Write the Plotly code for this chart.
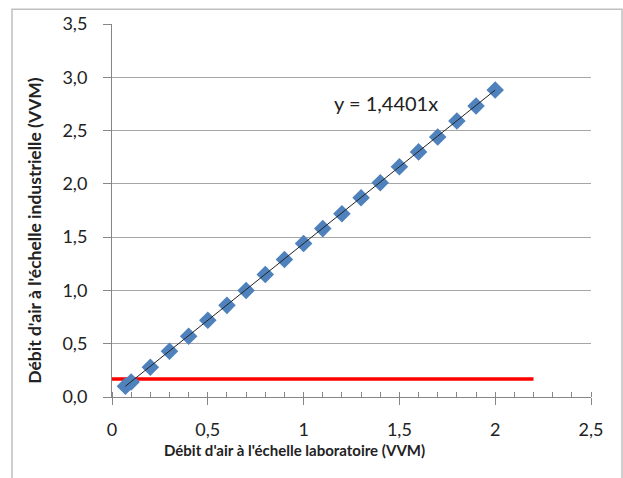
import plotly.graph_objects as go

# Data
lab_vvm = [0.07, 0.1, 0.2, 0.3, 0.4, 0.5, 0.6, 0.7, 0.8, 0.9, 1.0,
           1.1, 1.2, 1.3, 1.4, 1.5, 1.6, 1.7, 1.8, 1.9, 2.0]
ind_vvm = [0.10, 0.14, 0.28, 0.43, 0.57, 0.72, 0.86, 1.00, 1.15, 1.29, 1.44,
           1.58, 1.72, 1.87, 2.01, 2.16, 2.30, 2.44, 2.59, 2.73, 2.88]
trend_x = [0.07, 2.0]
trend_y = [0.1008, 2.8802]
limit_x = [0.0, 2.2]
limit_y = [0.17, 0.17]
equation = "y = 1,4401x"
x_title = "Débit d'air à l'échelle laboratoire (VVM)"
y_title = "Débit d'air à l'échelle industrielle (VVM)"

FONT = "Lato"
W, H = 623, 478
L, R, T, B = 112, 32, 20, 81
pw, ph = W - L - R, H - T - B

fig = go.Figure()
fig.add_trace(go.Scatter(x=limit_x, y=limit_y, mode="lines",
                         line=dict(color="#ff0000", width=3.5), showlegend=False))
fig.add_trace(go.Scatter(x=lab_vvm, y=ind_vvm, mode="markers",
                         marker=dict(symbol="diamond", size=13.5, color="#4f81bd",
                                     line=dict(width=0)), showlegend=False))
fig.add_trace(go.Scatter(x=trend_x, y=trend_y, mode="lines",
                         line=dict(color="#222222", width=1), showlegend=False))

fig.update_xaxes(range=[0, 2.5], tickvals=[0, 0.5, 1, 1.5, 2, 2.5],
                 showgrid=False, zeroline=False, showline=True,
                 linecolor="#868686", linewidth=1,
                 ticks="outside", ticklen=7, tickcolor="#868686",
                 minor=dict(dtick=0.1, ticks="inside", ticklen=5, tickcolor="#868686", showgrid=False),
                 tickfont=dict(family=FONT, size=18, color="#222222"),
                 ticklabelstandoff=9)
fig.update_yaxes(range=[0, 3.5], dtick=0.5, tickformat=".1f",
                 showgrid=True, gridcolor="#a6a6a6", gridwidth=1,
                 zeroline=False, showline=True, linecolor="#868686", linewidth=1,
                 ticks="outside", ticklen=8, tickcolor="#868686",
                 tickfont=dict(family=FONT, size=18, color="#222222"),
                 ticklabelstandoff=12)

fig.add_annotation(x=1.43, y=2.76, xref="x", yref="y", text=equation, showarrow=False,
                   font=dict(family=FONT, size=20, color="#222222"))
fig.add_annotation(x=(294 - L) / pw, y=(H - 462 - B) / ph, xref="paper", yref="paper",
                   text="<b>" + x_title + "</b>", showarrow=False,
                   font=dict(family=FONT, size=15, color="#222222"))
fig.add_annotation(x=(35 - L) / pw, y=(H - 229 - B) / ph, xref="paper", yref="paper",
                   xanchor="center", yanchor="middle",
                   text="<b>" + y_title + "</b>", showarrow=False, textangle=-90,
                   font=dict(family=FONT, size=17.5, color="#222222"))

# chart border
fig.add_shape(type="rect", xref="paper", yref="paper",
              x0=(12 - L) / pw, x1=(622 - L) / pw,
              y0=(H - 500 - B) / ph, y1=(H - 5 - B) / ph,
              line=dict(color="#bfbfbf", width=1.5), layer="below")

fig.update_layout(width=W, height=H, margin=dict(l=L, r=R, t=T, b=B),
                  plot_bgcolor="white", paper_bgcolor="white",
                  separators=", ", showlegend=False,
                  font=dict(family=FONT, color="#222222"))

fig.write_html("out.html", config={"displayModeBar": False},
               post_script="document.body.style.margin='0px';document.body.style.overflow='hidden';")
